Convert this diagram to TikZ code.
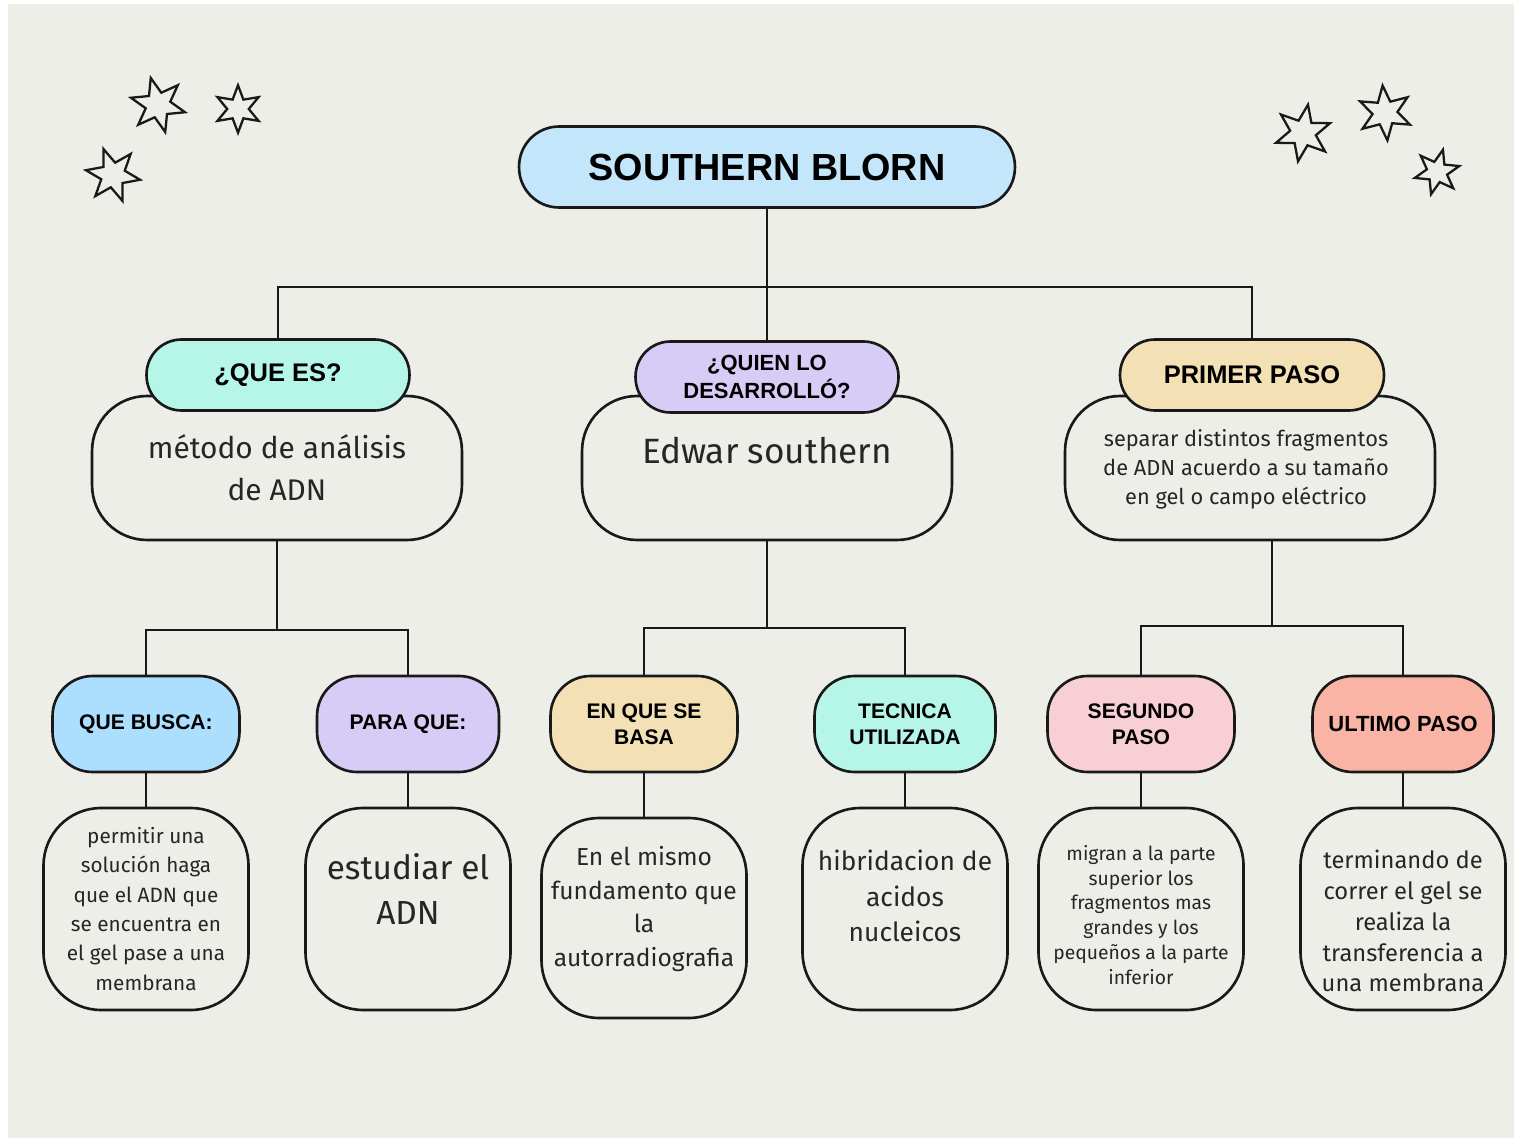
\documentclass[tikz,border=0pt]{standalone}
\usepackage{fontspec}
\usetikzlibrary{shapes.geometric}

\newfontfamily\headfont{Liberation Sans}
\newfontfamily\bodyfont{Fira Sans}

\definecolor{bggray}{RGB}{238,238,233}
\definecolor{titleblue}{RGB}{195,230,251}
\definecolor{skyblue}{RGB}{172,222,253}
\definecolor{mint}{RGB}{182,246,233}
\definecolor{lavender}{RGB}{214,204,246}
\definecolor{sand}{RGB}{244,224,181}
\definecolor{rosa}{RGB}{249,207,214}
\definecolor{salmon}{RGB}{249,180,165}

\tikzset{
  link/.style={line width=1.3pt, black!90},
  pill/.style={draw=black!90, line width=1.5pt, align=center, inner sep=0pt,
    font=\headfont\bfseries\fontsize{14.5}{17}\selectfont},
  card/.style={draw=black!90, line width=1.5pt, fill=bggray, inner sep=0pt},
  cardtext/.style={align=center, text=black!85, inner sep=0pt},
  doodle/.style={star, star points=6, star point ratio=2.2, draw=black!90,
    line width=1.3pt, inner sep=0pt}
}

\begin{document}
\begin{tikzpicture}[x=0.02cm, y=-0.02cm]

\useasboundingbox (0,0) rectangle (1514,1138);
\fill[white] (0,0) rectangle (1514,1138);
\fill[bggray] (8,4) rectangle (1514,1138);

% estrellas
\foreach \i/\x/\y/\s/\r in {1/158/105/1.12/15, 2/238/109/0.95/0, 3/113/175/1.1/20,
    4/1303/133/1.15/-10, 5/1385/113/1.1/5, 6/1437/172/0.92/-15}
  \node[doodle, minimum size=\s cm, rotate=\r] (star-\i) at (\x,\y) {};

% titulo
\node[pill, fill=titleblue, minimum width=9.92cm, minimum height=1.62cm, rounded corners=0.8cm,
  font=\headfont\bfseries\fontsize{21.5}{24}\selectfont] (title) at (767,167) {SOUTHERN BLORN};

% primer nivel: tarjetas
\node[card, minimum width=7.4cm, minimum height=2.88cm, rounded corners=1.1cm] (que-card) at (277,468) {};
\node[card, minimum width=7.4cm, minimum height=2.88cm, rounded corners=1.1cm] (quien-card) at (767,468) {};
\node[card, minimum width=7.4cm, minimum height=2.88cm, rounded corners=1.1cm] (paso-card) at (1250,468) {};

% primer nivel: cabeceras
\node[pill, fill=mint, minimum width=5.26cm, minimum height=1.42cm, rounded corners=0.7cm] (que) at (278,375) {¿QUE ES?};
\node[pill, fill=lavender, minimum width=5.26cm, minimum height=1.42cm, rounded corners=0.7cm,
  font=\headfont\bfseries\fontsize{12.5}{15.5}\selectfont] (quien) at (767,377) {¿QUIEN LO\\DESARROLLÓ?};
\node[pill, fill=sand, minimum width=5.28cm, minimum height=1.42cm, rounded corners=0.7cm] (paso) at (1252,375) {PRIMER PASO};

\node[cardtext, font=\bodyfont\fontsize{17}{24}\selectfont] (que-text) at (277,468) {método de análisis\\de ADN};
\node[cardtext, font=\bodyfont\fontsize{20}{24}\selectfont] (quien-text) at (767,451) {Edwar southern};
\node[cardtext, font=\bodyfont\fontsize{12.4}{16.5}\selectfont] (paso-text) at (1246,469) {separar distintos fragmentos\\de ADN acuerdo a su tamaño\\en gel o campo eléctrico};

% segundo nivel: cabeceras
\node[pill, fill=skyblue, minimum width=3.74cm, minimum height=1.92cm, rounded corners=0.8cm,
  font=\headfont\bfseries\fontsize{12}{15}\selectfont] (busca) at (146,724) {QUE BUSCA:};
\node[pill, fill=lavender, minimum width=3.64cm, minimum height=1.92cm, rounded corners=0.8cm,
  font=\headfont\bfseries\fontsize{12}{15}\selectfont] (para) at (408,724) {PARA QUE:};
\node[pill, fill=sand, minimum width=3.74cm, minimum height=1.92cm, rounded corners=0.8cm,
  font=\headfont\bfseries\fontsize{12}{15}\selectfont] (basa) at (644,724) {EN QUE SE\\BASA};
\node[pill, fill=mint, minimum width=3.62cm, minimum height=1.92cm, rounded corners=0.8cm,
  font=\headfont\bfseries\fontsize{12}{15}\selectfont] (tecnica) at (905,724) {TECNICA\\UTILIZADA};
\node[pill, fill=rosa, minimum width=3.74cm, minimum height=1.92cm, rounded corners=0.8cm,
  font=\headfont\bfseries\fontsize{12}{15}\selectfont] (segundo) at (1141,724) {SEGUNDO\\PASO};
\node[pill, fill=salmon, minimum width=3.62cm, minimum height=1.92cm, rounded corners=0.8cm,
  font=\headfont\bfseries\fontsize{12.5}{15}\selectfont] (ultimo) at (1403,724) {ULTIMO PASO};

% segundo nivel: tarjetas
\node[card, minimum width=4.1cm, minimum height=4.04cm, rounded corners=1.15cm] (busca-card) at (146,909) {};
\node[card, minimum width=4.1cm, minimum height=4.04cm, rounded corners=1.15cm] (para-card) at (408,909) {};
\node[card, minimum width=4.1cm, minimum height=4.0cm, rounded corners=1.15cm] (basa-card) at (644,918) {};
\node[card, minimum width=4.1cm, minimum height=4.04cm, rounded corners=1.15cm] (tecnica-card) at (905,909) {};
\node[card, minimum width=4.1cm, minimum height=4.04cm, rounded corners=1.15cm] (segundo-card) at (1141,909) {};
\node[card, minimum width=4.1cm, minimum height=4.04cm, rounded corners=1.15cm] (ultimo-card) at (1403,909) {};

\node[cardtext, font=\bodyfont\fontsize{11.8}{16.7}\selectfont] (busca-text) at (146,909) {permitir una\\solución haga\\que el ADN que\\se encuentra en\\el gel pase a una\\membrana};
\node[cardtext, font=\bodyfont\fontsize{19}{25.5}\selectfont] (para-text) at (408,889) {estudiar el\\ADN};
\node[cardtext, font=\bodyfont\fontsize{14}{19.3}\selectfont] (basa-text) at (644,909) {En el mismo\\fundamento que\\la\\autorradiografia};
\node[cardtext, font=\bodyfont\fontsize{15}{20}\selectfont] (tecnica-text) at (905,896) {hibridacion de\\acidos\\nucleicos};
\node[cardtext, font=\bodyfont\fontsize{11}{14.2}\selectfont] (segundo-text) at (1141,915) {migran a la parte\\superior los\\fragmentos mas\\grandes y los\\pequeños a la parte\\inferior};
\node[cardtext, font=\bodyfont\fontsize{13.5}{17.6}\selectfont] (ultimo-text) at (1403,921) {terminando de\\correr el gel se\\realiza la\\transferencia a\\una membrana};

% conectores
\coordinate (bar1) at (767,287);
\coordinate (bar2) at (277,630);
\coordinate (bar3) at (767,628);
\coordinate (bar4) at (1272,626);

\draw[link] (title) -- (bar1);
\draw[link] (que.north) |- (bar1) -| (paso.north);
\draw[link] (bar1) -- (quien.north);

\draw[link] (que-card) -- (bar2);
\draw[link] (busca.north) |- (bar2) -| (para.north);
\draw[link] (quien-card) -- (bar3);
\draw[link] (basa.north) |- (bar3) -| (tecnica.north);
\draw[link] (bar4 |- paso-card.south) -- (bar4);
\draw[link] (segundo.north) |- (bar4) -| (ultimo.north);

\draw[link] (busca) -- (busca-card);
\draw[link] (para) -- (para-card);
\draw[link] (basa) -- (basa-card);
\draw[link] (tecnica) -- (tecnica-card);
\draw[link] (segundo) -- (segundo-card);
\draw[link] (ultimo) -- (ultimo-card);

\end{tikzpicture}
\end{document}
